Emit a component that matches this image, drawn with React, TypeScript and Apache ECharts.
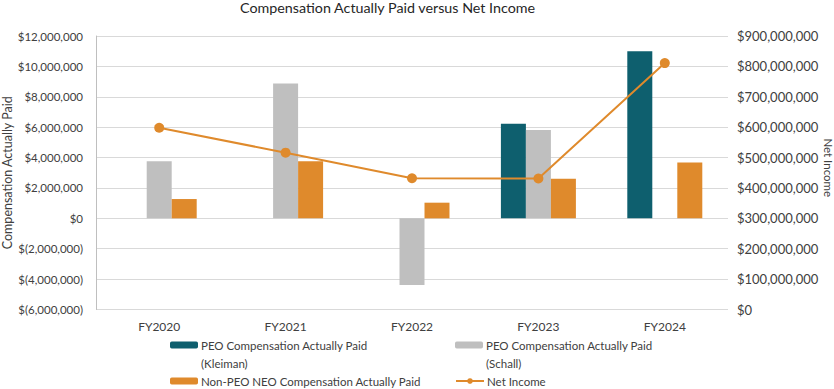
import React, { useEffect, useRef } from "react";
import * as echarts from "echarts";

const categories = ["FY2020", "FY2021", "FY2022", "FY2023", "FY2024"];
const peoKleiman = [null, null, null, 6220000, 11000000];
const peoSchall = [3750000, 8880000, -4390000, 5810000, null];
const nonPeo = [1270000, 3760000, 1030000, 2600000, 3680000];
const netIncome = [598000000, 516000000, 432000000, 431000000, 811000000];

const leftTicks = { min: -6000000, max: 12000000, interval: 2000000 };
const rightTicks = { min: 0, max: 900000000, interval: 100000000 };

const seriesNames = [
  "PEO Compensation Actually Paid (Kleiman)",
  "PEO Compensation Actually Paid (Schall)",
  "Non-PEO NEO Compensation Actually Paid",
  "Net Income",
];

const FONT = "Lato, 'Open Sans', sans-serif";
const TEXT = "#404040";
const TEAL = "#0e5f6e";
const GRAY = "#bfbfbf";
const ORANGE = "#df8a2c";

const money = (v: number) => {
  const s = Math.abs(v).toLocaleString("en-US");
  return v < 0 ? `$(${s})` : `$${s}`;
};

export default function App() {
  const ref = useRef<HTMLDivElement>(null);
  useEffect(() => {
    if (!ref.current) return;
    const chart = echarts.init(ref.current, null, { renderer: "svg" });
    const legendBase = {
      orient: "horizontal",
      padding: 0,
      itemWidth: 28,
      itemHeight: 7,
      itemGap: 0,
      selectedMode: false,
      textStyle: { fontFamily: FONT, fontSize: 11.5, color: TEXT, padding: [0, 0, 0, -2] },
    };
    const firstLine = (n: string) => n.replace(/ \((Kleiman|Schall)\)$/, "");
    chart.setOption({
      animation: false,
      textStyle: { fontFamily: FONT },
      title: {
        text: "Compensation Actually Paid versus Net Income",
        left: 240,
        top: 0,
        padding: 0,
        textStyle: { fontFamily: FONT, fontSize: 14.3, fontWeight: "normal", color: "#262626" },
      },
      grid: { left: 96, right: 106, top: 36, bottom: 79.5, containLabel: false, outerBoundsMode: "none" },
      legend: [
        { ...legendBase, data: [seriesNames[0]], left: 170, top: 339, formatter: firstLine },
        { ...legendBase, data: [seriesNames[1]], left: 455, top: 339, formatter: firstLine },
        { ...legendBase, data: [seriesNames[2]], left: 170, top: 375 },
        { ...legendBase, data: [seriesNames[3]], left: 455, top: 375 },
      ],
      graphic: [
        { type: "text", left: 201, top: 357, style: { text: "(Kleiman)", fontFamily: FONT, fontSize: 11.5, fill: TEXT } },
        { type: "text", left: 486, top: 357, style: { text: "(Schall)", fontFamily: FONT, fontSize: 11.5, fill: TEXT } },
      ],
      xAxis: {
        type: "category",
        data: categories,
        axisLine: { show: false },
        axisTick: { show: false },
        axisLabel: { color: TEXT, fontFamily: FONT, fontSize: 12, margin: 11 },
      },
      yAxis: [
        {
          type: "value",
          ...leftTicks,
          name: "Compensation Actually Paid",
          nameLocation: "middle",
          nameRotate: 90,
          nameGap: 82,
          nameMoveOverlap: false,
          nameTextStyle: { fontFamily: FONT, fontSize: 12.5, color: TEXT },
          axisLine: { show: true, lineStyle: { color: "#bfbfbf" } },
          axisTick: { show: false },
          splitLine: { lineStyle: { color: "#d9d9d9" } },
          axisLabel: { color: TEXT, fontFamily: FONT, fontSize: 11.5, margin: 13, formatter: money },
        },
        {
          type: "value",
          ...rightTicks,
          position: "right",
          name: "Net Income",
          nameLocation: "middle",
          nameRotate: -90,
          nameGap: 94,
          nameMoveOverlap: false,
          nameTextStyle: { fontFamily: FONT, fontSize: 11.5, color: TEXT, padding: [0, 10, 0, 0] },
          axisLine: { show: false },
          axisTick: { show: false },
          splitLine: { show: false },
          axisLabel: { color: TEXT, fontFamily: FONT, fontSize: 13, margin: 9, formatter: money },
        },
      ],
      series: [
        { name: seriesNames[0], type: "bar", data: peoKleiman, barWidth: 25, barGap: "0%", itemStyle: { color: TEAL } },
        { name: seriesNames[1], type: "bar", data: peoSchall, barWidth: 25, barGap: "0%", itemStyle: { color: GRAY } },
        { name: seriesNames[2], type: "bar", data: nonPeo, barWidth: 25, barGap: "0%", itemStyle: { color: ORANGE } },
        {
          name: seriesNames[3],
          type: "line",
          yAxisIndex: 1,
          data: netIncome,
          symbol: "circle",
          symbolSize: 10,
          lineStyle: { color: ORANGE, width: 2 },
          itemStyle: { color: ORANGE },
          z: 5,
        },
      ],
    });
    return () => chart.dispose();
  }, []);
  return <div ref={ref} style={{ width: 834, height: 389, position: "absolute", left: 0, top: 0 }} />;
}
